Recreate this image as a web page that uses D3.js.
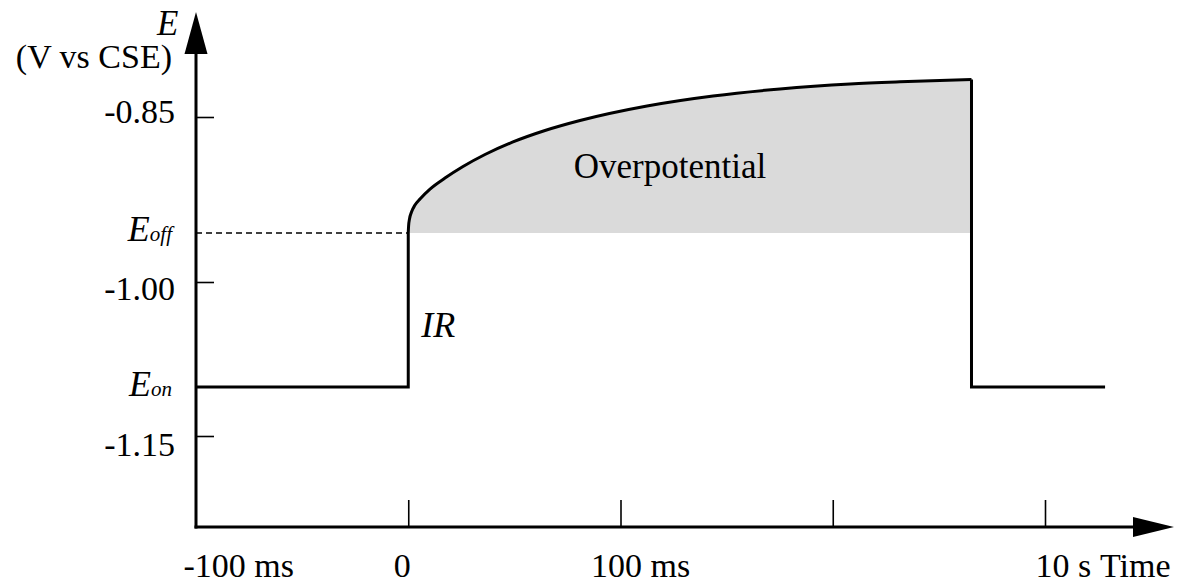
<!DOCTYPE html>
<html>
<head>
<meta charset="utf-8">
<script src="https://cdn.jsdelivr.net/npm/d3@7"></script>
<style>
  body { margin: 0; background: #fff; }
  text { font-family: "Liberation Serif", "Times New Roman", serif; fill: #000; }
</style>
</head>
<body>
<div id="chart"></div>
<script>
var svgWidth = 1191;
var svgHeight = 588;

// time in axis divisions (-1 = -100 ms, 0 = 0, 1 = 100 ms, 3 = 10 s)
var xTicks = [-1, 0, 1, 2, 3];
var xTickLabels = ["-100 ms", "0", "100 ms", "", "10 s"];
var yTicks = [-0.85, -1.00, -1.15];
var yTickLabels = ["-0.85", "-1.00", "-1.15"];

var eOff = -0.9555;
var eOn = -1.1023;

// potential after the current is switched on (rise above E_off)
var curveTime = [0, 0.0016, 0.0059, 0.0153, 0.0318, 0.0554, 0.1025, 0.1731, 0.2580, 0.3616, 0.4935, 0.6443, 0.8092, 1.1249, 1.4359, 1.7515, 2.0813, 2.3168, 2.6537];
var curveE = [-0.9555, -0.9491, -0.9427, -0.9364, -0.9300, -0.9245, -0.9155, -0.9055, -0.8950, -0.8841, -0.8727, -0.8623, -0.8532, -0.8400, -0.8309, -0.8245, -0.8200, -0.8180, -0.8159];

var tStart = -1;
var tOn = 0;
var tOff = 2.6537;
var tEnd = 3.283;

var svg = d3.select("#chart")
    .append("svg")
    .attr("width", svgWidth)
    .attr("height", svgHeight);

var x = d3.scaleLinear()
    .domain([-1, 3])
    .range([196, 1045]);

var y = d3.scaleLinear()
    .domain([-0.85, -1.00, -1.15])
    .range([117, 282, 436]);

var baseY = 527;
var axisX = x(-1);

var curveData = curveTime.map(function(t, i) { return { t: t, e: curveE[i] }; });

// grey overpotential area
var area = d3.area()
    .x(d => x(d.t))
    .y0(y(eOff))
    .y1(d => y(d.e))
    .curve(d3.curveMonotoneX);

svg.append("path")
    .datum(curveData)
    .attr("d", area)
    .attr("fill", "#dadada");

// dashed E_off guide
svg.append("line")
    .attr("x1", axisX)
    .attr("x2", x(tOn))
    .attr("y1", y(eOff))
    .attr("y2", y(eOff))
    .attr("stroke", "#000")
    .attr("stroke-width", 1.5)
    .attr("stroke-dasharray", "6,4");

// axes with ticks only (domain drawn by hand for the arrows)
var leftAxis = d3.axisLeft(y)
    .tickValues(yTicks)
    .tickFormat((d, i) => yTickLabels[i])
    .tickSize(-18)
    .tickPadding(21);

var yAxisG = svg.append("g")
    .attr("transform", `translate(${axisX}, 0)`)
    .call(leftAxis);
yAxisG.select(".domain").remove();
yAxisG.selectAll(".tick line").attr("stroke-width", 1.6);
var yLabelDy = [5, 17, 19];
yAxisG.selectAll(".tick text")
    .attr("font-size", 34)
    .attr("font-family", "Liberation Serif")
    .attr("dy", (d, i) => yLabelDy[i])
    .attr("x", -21);

var bottomAxis = d3.axisBottom(x)
    .tickValues(xTicks)
    .tickFormat((d, i) => xTickLabels[i])
    .tickSize(-27)
    .tickPadding(0);

var xAxisG = svg.append("g")
    .attr("transform", `translate(0, ${baseY})`)
    .call(bottomAxis);
xAxisG.select(".domain").remove();
xAxisG.selectAll(".tick line")
    .attr("stroke-width", 1.6)
    .attr("display", d => d === -1 ? "none" : null);
var xLabelDx = [-13, -15, -30, 0, -10];
xAxisG.selectAll(".tick text")
    .attr("font-size", 34)
    .attr("font-family", "Liberation Serif")
    .attr("text-anchor", "start")
    .attr("x", (d, i) => xLabelDx[i])
    .attr("y", 50)
    .attr("dy", 0);

// axis lines + arrow heads
svg.append("line")
    .attr("x1", axisX).attr("x2", axisX)
    .attr("y1", baseY + 1.5).attr("y2", 50)
    .attr("stroke", "#000").attr("stroke-width", 3);
svg.append("path")
    .attr("d", `M${axisX},12 L${axisX - 11.5},54 L${axisX + 11.5},54 Z`)
    .attr("fill", "#000");

svg.append("line")
    .attr("x1", axisX - 1.5).attr("x2", 1136)
    .attr("y1", baseY).attr("y2", baseY)
    .attr("stroke", "#000").attr("stroke-width", 3);
svg.append("path")
    .attr("d", `M1174,${baseY} L1133,${baseY - 10} L1133,${baseY + 10} Z`)
    .attr("fill", "#000");

// potential trace
var stepLine = d3.line()
    .x(d => x(d[0]))
    .y(d => y(d[1]));

svg.append("path")
    .attr("d", stepLine([[tStart, eOn], [tOn, eOn], [tOn, eOff]]))
    .attr("fill", "none").attr("stroke", "#000").attr("stroke-width", 3)
    .attr("stroke-linejoin", "miter");

var curveLine = d3.line()
    .x(d => x(d.t))
    .y(d => y(d.e))
    .curve(d3.curveMonotoneX);

svg.append("path")
    .datum(curveData)
    .attr("d", curveLine)
    .attr("fill", "none").attr("stroke", "#000").attr("stroke-width", 3);

svg.append("path")
    .attr("d", stepLine([[tOff, curveE[curveE.length - 1]], [tOff, eOn], [tEnd, eOn]]))
    .attr("fill", "none").attr("stroke", "#000").attr("stroke-width", 3)
    .attr("stroke-linejoin", "miter");

// labels
svg.append("text")
    .attr("x", 157).attr("y", 35)
    .attr("font-size", 35).attr("font-style", "italic")
    .text("E");

svg.append("text")
    .attr("x", 172).attr("y", 68)
    .attr("text-anchor", "end")
    .attr("font-size", 34)
    .text("(V vs CSE)");

var eOffLabel = svg.append("text")
    .attr("x", 172).attr("y", y(eOff) + 8)
    .attr("text-anchor", "end")
    .attr("font-style", "italic");
eOffLabel.append("tspan").attr("font-size", 36).text("E");
eOffLabel.append("tspan").attr("font-size", 21).text("off");

var eOnLabel = svg.append("text")
    .attr("x", 172).attr("y", y(eOn) + 9)
    .attr("text-anchor", "end")
    .attr("font-style", "italic");
eOnLabel.append("tspan").attr("font-size", 36).text("E");
eOnLabel.append("tspan").attr("font-size", 21).text("on");

svg.append("text")
    .attr("x", x(tOn) + 13).attr("y", 337)
    .attr("font-size", 36).attr("font-style", "italic")
    .text("IR");

svg.append("text")
    .attr("x", 670).attr("y", 178)
    .attr("text-anchor", "middle")
    .attr("font-size", 35)
    .text("Overpotential");

svg.append("text")
    .attr("x", 1100).attr("y", baseY + 50)
    .attr("font-size", 34)
    .text("Time");
</script>
</body>
</html>
